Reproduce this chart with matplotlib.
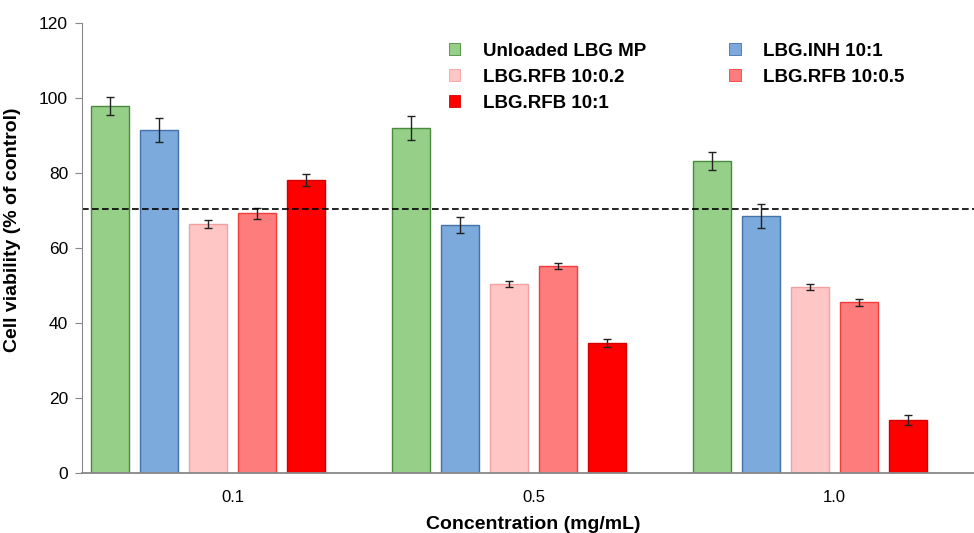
import matplotlib.pyplot as plt
from matplotlib.patches import Patch

plt.rcParams['font.family'] = ['Liberation Sans', 'DejaVu Sans']

# data
concentrations = ["0.1", "0.5", "1.0"]
series = ["Unloaded LBG MP", "LBG.INH 10:1", "LBG.RFB 10:0.2", "LBG.RFB 10:0.5", "LBG.RFB 10:1"]
unloaded = [98.0, 92.0, 83.2]
inh = [91.5, 66.2, 68.5]
rfb_02 = [66.5, 50.4, 49.6]
rfb_05 = [69.3, 55.3, 45.5]
rfb_1 = [78.2, 34.7, 14.2]
err_unloaded = [2.4, 3.3, 2.4]
err_inh = [3.3, 2.2, 3.2]
err_rfb_02 = [1.1, 0.8, 0.7]
err_rfb_05 = [1.5, 0.8, 1.0]
err_rfb_1 = [1.6, 1.0, 1.3]
threshold = 70.3

values = [unloaded, inh, rfb_02, rfb_05, rfb_1]
errors = [err_unloaded, err_inh, err_rfb_02, err_rfb_05, err_rfb_1]
faces = ["#95cf88", "#7caadc", "#ffc6c6", "#ff7c7c", "#ff0000"]
edges = ["#4a8a3c", "#4670a8", "#f4a0a0", "#f23c3c", "#d40000"]

fig = plt.figure(figsize=(9.74, 5.33), dpi=100)
ax = fig.add_axes([82 / 974, 60 / 533, 903 / 974, 450 / 533])

slot = 0.163
barw = 0.126
xs = range(len(concentrations))
for i, (vals, errs) in enumerate(zip(values, errors)):
    pos = [x + (i - 2.5) * slot for x in xs]
    ax.bar(pos, vals, width=barw, color=faces[i], edgecolor=edges[i], linewidth=1.0,
           yerr=errs, error_kw=dict(ecolor="#222222", elinewidth=1.0, capsize=3, capthick=1.0))

ax.axhline(threshold, color="black", linestyle=(0, (4, 2)), linewidth=1.2)

ax.set_xlim(-0.5, 2.5)
ax.set_ylim(0, 120)
ax.set_yticks(range(0, 121, 20))
ax.set_xticks(list(xs))
ax.set_xticklabels(concentrations)
ax.tick_params(axis="x", length=0, pad=12, labelsize=12)
ax.tick_params(axis="y", length=5, color="#888888", labelsize=12.5, pad=5)
for s in ["top", "right"]:
    ax.spines[s].set_visible(False)
ax.spines["left"].set_color("#888888")
ax.spines["bottom"].set_color("#888888")
ax.spines["bottom"].set_linewidth(1.3)

ax.set_ylabel("Cell viability (% of control)", fontsize=14, fontweight="bold", labelpad=6)
ax.yaxis.set_label_coords(-0.068, 0.54)
ax.set_xlabel("Concentration (mg/mL)", fontsize=14, fontweight="bold", labelpad=8)

order = [0, 2, 4, 1, 3]
handles = [Patch(facecolor=faces[k], edgecolor=edges[k], linewidth=0.6) for k in order]
labels = [series[k] for k in order]
fig.legend(handles, labels, loc="upper left", bbox_to_anchor=(432 / 974, 1 - 26 / 533), ncol=2,
           frameon=False, handlelength=0.6, handleheight=0.6, handletextpad=1.2,
           columnspacing=4.45, labelspacing=0.48, prop=dict(size=13.5, weight="bold"))

fig.savefig("out.png", dpi=100)
